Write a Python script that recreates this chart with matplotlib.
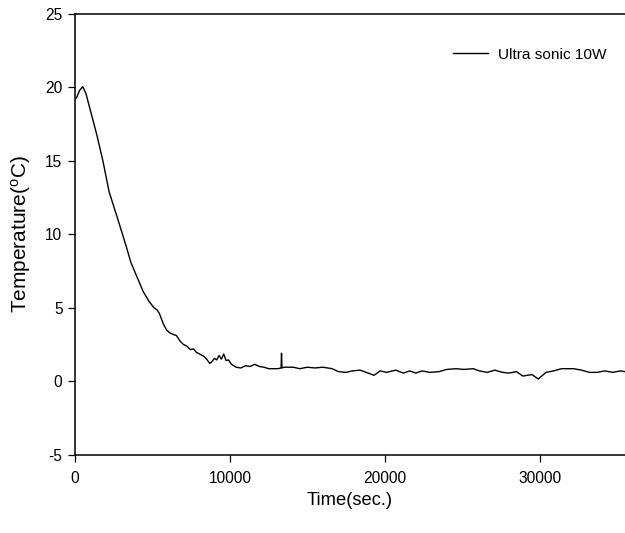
'''
Cooling curve of the sample under 10 W ultrasonic agitation
'''

import numpy as np
import matplotlib
matplotlib.use('Agg')
import matplotlib.pyplot as plt

# values
time_s = [0, 100, 300, 500, 700, 1000, 1400, 1800, 2200, 2800, 3300, 3600,
          4000, 4400, 4800, 5100, 5300, 5450, 5700, 5900, 6100, 6300, 6550,
          6800, 7000, 7200, 7450, 7650, 7850, 8050, 8300, 8500, 8700, 8850,
          9000, 9150, 9300, 9450, 9600, 9750, 9900, 10100, 10400, 10700,
          11000, 11300, 11600, 11900, 12200, 12500, 12800, 13100, 13300,
          13330, 13360, 13500, 13800, 14100, 14500, 15000, 15500, 16000,
          16600, 17000, 17500, 17900, 18400, 18800, 19300, 19700, 20100,
          20700, 21200, 21600, 22000, 22400, 22900, 23500, 24000, 24600,
          25100, 25700, 26100, 26600, 27100, 27600, 28000, 28500, 28900,
          29500, 29900, 30400, 30900, 31400, 31800, 32200, 32700, 33200,
          33700, 34200, 34700, 35200, 35500]
temp_c = [19.2, 19.3, 19.8, 20.05, 19.6, 18.4, 16.8, 15.0, 12.9, 10.9, 9.2,
          8.1, 7.1, 6.1, 5.4, 5.0, 4.85, 4.6, 3.9, 3.5, 3.3, 3.2, 3.1, 2.7,
          2.5, 2.4, 2.15, 2.2, 1.95, 1.85, 1.7, 1.5, 1.2, 1.35, 1.55, 1.45,
          1.75, 1.5, 1.85, 1.4, 1.45, 1.15, 0.95, 0.9, 1.05, 1.0, 1.15, 1.0,
          0.95, 0.85, 0.85, 0.85, 0.9, 1.9, 0.9, 0.95, 0.95, 0.95, 0.85,
          0.95, 0.9, 0.95, 0.85, 0.65, 0.6, 0.7, 0.75, 0.6, 0.4, 0.7, 0.6,
          0.75, 0.55, 0.7, 0.55, 0.7, 0.6, 0.65, 0.8, 0.85, 0.8, 0.85, 0.7,
          0.6, 0.75, 0.6, 0.55, 0.65, 0.35, 0.45, 0.15, 0.6, 0.7, 0.85, 0.85,
          0.85, 0.75, 0.6, 0.6, 0.7, 0.6, 0.7, 0.65]
series_label = 'Ultra sonic 10W'
x_ticks = [0, 10000, 20000, 30000]
y_ticks = [-5, 0, 5, 10, 15, 20, 25]

plt.rcParams['font.family'] = ['Liberation Sans', 'DejaVu Sans']
plt.rcParams['axes.unicode_minus'] = False

fig = plt.figure(figsize=(6.25, 5.33), dpi=100)
ax = fig.add_axes([0.12, 0.147, 0.88, 0.827])

ax.plot(time_s, temp_c, color='black', linewidth=1.0, label=series_label)

ax.set_xlim(0, 35500)
ax.set_ylim(-5, 25)
ax.set_xticks(x_ticks)
ax.set_yticks(y_ticks)
ax.tick_params(direction='out', length=5, width=0.9, labelsize=11.2,
               colors='black')
ax.tick_params(axis='x', pad=7)
ax.tick_params(axis='y', pad=4)

for side in ['left', 'bottom', 'top']:
    ax.spines[side].set_linewidth(1.1)
ax.spines['right'].set_visible(False)

ax.set_xlabel('Time(sec.)', fontsize=13.2, labelpad=4)
ax.set_ylabel('Temperature($\\mathregular{^oC}$)', fontsize=15,
              labelpad=9)

ax.legend(loc='center left', bbox_to_anchor=(0.687, 0.907), frameon=False,
          fontsize=11.1, handlelength=2.3, handletextpad=0.65,
          borderpad=0, borderaxespad=0)

fig.savefig('out.png', dpi=100)
